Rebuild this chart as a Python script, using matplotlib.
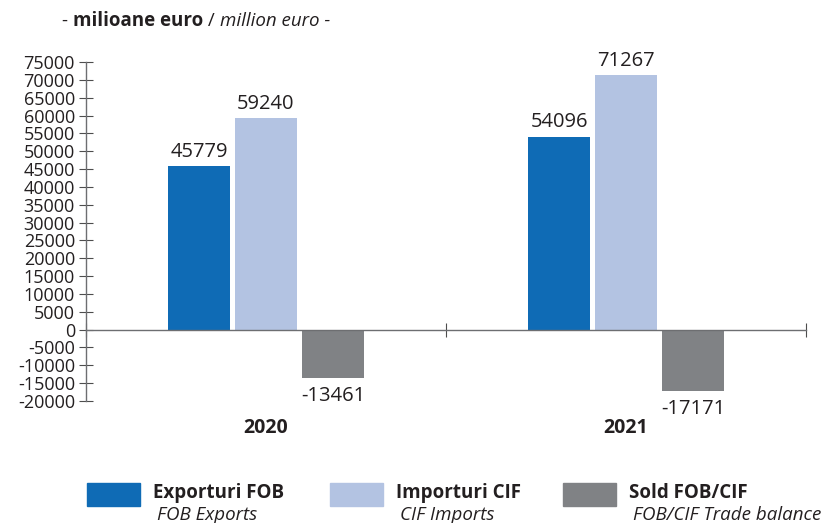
import matplotlib.pyplot as plt
from matplotlib.patches import Rectangle

# data (milioane euro)
years = ["2020", "2021"]
exports = [45779, 54096]
imports = [59240, 71267]
balance = [-13461, -17171]

series_ro = ["Exporturi FOB", "Importuri CIF", "Sold FOB/CIF"]
series_en = ["FOB Exports", "CIF Imports", "FOB/CIF Trade balance"]
colors = ["#0F6BB5", "#B3C3E2", "#808285"]

yticks = list(range(-20000, 75001, 5000))

plt.rcParams['font.family'] = ['Open Sans', 'DejaVu Sans']
txt = "#231F20"

fig = plt.figure(figsize=(8.29, 5.23), dpi=100)
ax = fig.add_axes([86 / 829, 122 / 523, 720 / 829, 339 / 523])

width = 0.17
offsets = [-0.186, 0, 0.186]
x = list(range(len(years)))
for vals, off, col in zip([exports, imports, balance], offsets, colors):
    pos = [xi + off for xi in x]
    bars = ax.bar(pos, vals, width=width, color=col, zorder=1)
    for b, v in zip(bars, vals):
        if v >= 0:
            ax.annotate(str(v), (b.get_x() + b.get_width() / 2, v), xytext=(0, 3),
                        textcoords="offset points", ha="center", va="bottom",
                        fontsize=14.5, color=txt)
        else:
            ax.annotate(str(v), (b.get_x() + b.get_width() / 2, v), xytext=(0, -6),
                        textcoords="offset points", ha="center", va="top",
                        fontsize=14.5, color=txt)

ax.set_xlim(-0.5, len(years) - 0.5)
ax.set_ylim(-20000, 75000)
ax.set_yticks(yticks)
ax.set_yticklabels([str(t) for t in yticks], fontsize=13, color=txt)
ax.set_xticks([i - 0.5 for i in range(len(years) + 1)])
ax.set_xticklabels([])
ax.tick_params(axis="y", direction="inout", length=10, width=0.8, color="#4d4d4d", pad=3)
ax.tick_params(axis="x", direction="inout", length=10, width=0.8, color="#4d4d4d")

for s in ["top", "right"]:
    ax.spines[s].set_visible(False)
ax.spines["bottom"].set_position(("data", 0))
ax.spines["bottom"].set_zorder(3)
for s in ["left", "bottom"]:
    ax.spines[s].set_color("#6d6e71")
    ax.spines[s].set_linewidth(1.0)

for xi, yr in zip(x, years):
    ax.text(xi, -0.08, yr, transform=ax.get_xaxis_transform(), ha="center", va="center",
            fontsize=14, fontweight="bold", color=txt)

# header
t1 = fig.text(62 / 829, 1 - 21 / 523, "- ", fontsize=13.5, color=txt, va="center")
t2 = ax.annotate("milioane euro", xy=(1, 0.5), xycoords=t1, va="center",
                 fontsize=13.5, fontweight="bold", color=txt)
t3 = ax.annotate(" / ", xy=(1, 0.5), xycoords=t2, va="center", fontsize=13.5, color=txt)
ax.annotate("million euro -", xy=(1, 0.5), xycoords=t3, va="center",
            fontsize=13.5, style="italic", color=txt, annotation_clip=False)

# legend
leg_x = [87, 330, 563]
for lx, ro, en, col in zip(leg_x, series_ro, series_en, colors):
    fig.patches.append(Rectangle((lx / 829, 1 - 506 / 523), 53 / 829, 23 / 523,
                                 transform=fig.transFigure, color=col))
    fig.text((lx + 66) / 829, 1 - 493 / 523, ro, fontsize=13.5, fontweight="bold",
             color=txt, va="center")
    fig.text((lx + 70) / 829, 1 - 515 / 523, en, fontsize=13.5, style="italic",
             color=txt, va="center")

fig.savefig("out.png", dpi=100)
